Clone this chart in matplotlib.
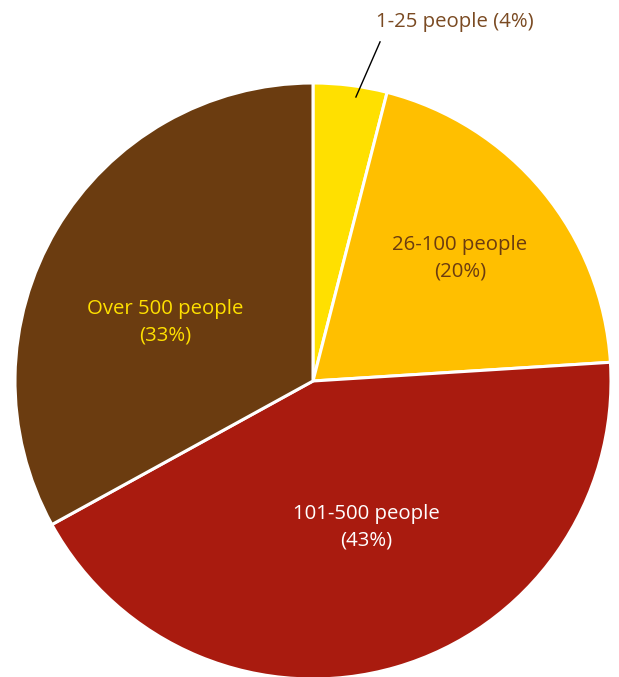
import matplotlib
matplotlib.use("Agg")
import matplotlib.pyplot as plt

categories = ["1-25 people", "26-100 people", "101-500 people", "Over 500 people"]
shares = [4, 20, 43, 33]
colors = ["#FFE000", "#FFBF00", "#A91B0F", "#6B3C10"]
text_colors = ["#6B3C10", "#6B3C10", "#FFFFFF", "#FFE000"]

plt.rcParams['font.family'] = ['Open Sans', 'DejaVu Sans']

W, H = 619, 677
fig = plt.figure(figsize=(W / 100, H / 100), dpi=100)
ax = fig.add_axes([0, 0, 1, 1])
cx, cy, R = 313, 381, 298

wedges, _ = ax.pie(shares, colors=colors, startangle=90, counterclock=False,
                   radius=1.0, center=(0, 0), frame=True,
                   wedgeprops=dict(edgecolor='white', linewidth=2.2))
ax.set_xlim((0 - cx) / R, (W - cx) / R)
ax.set_ylim((cy - H) / R, cy / R)
ax.axis('off')

fs = 14.7
# inside label positions (data units, radius = 1)
inside_pos = {1: (0.493, 0.413), 2: (0.178, -0.490), 3: (-0.497, 0.198)}
for i, (x, y) in inside_pos.items():
    ax.text(x, y, f"{categories[i]}\n({shares[i]}%)", ha='center', va='center',
            color=text_colors[i], fontsize=fs, linespacing=1.45)

# outside label for the small slice
ax.plot([0.144, 0.225], [0.953, 1.138], color='black', lw=1)
ax.text(0.477, 1.205, f"{categories[0]} ({shares[0]}%)", ha='center', va='center',
        color="#7A4A22", fontsize=fs)

fig.savefig("out.png", dpi=100)
